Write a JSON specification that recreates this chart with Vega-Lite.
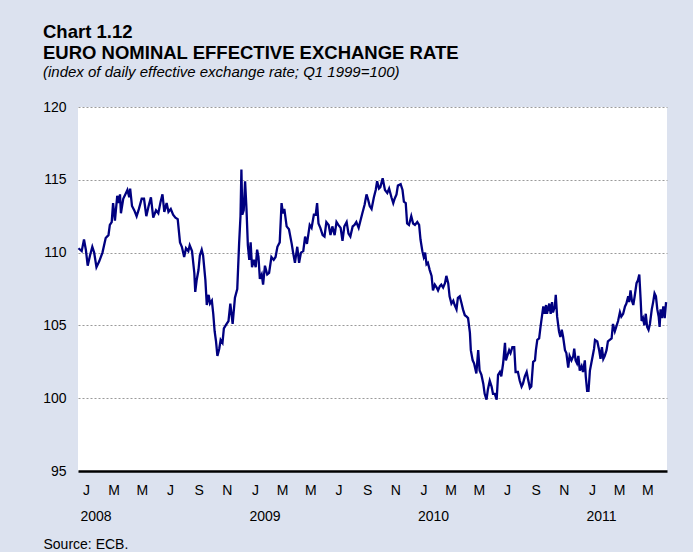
{
  "$schema": "https://vega.github.io/schema/vega-lite/v6.json",
  "width": 589,
  "height": 364,
  "autosize": {"type": "none"},
  "padding": {"left": 78, "top": 107, "right": 26, "bottom": 81},
  "background": "#dce2ef",
  "config": {
    "font": "Liberation Sans",
    "view": {"fill": "white", "stroke": null}
  },
  "title": {
    "text": ["Chart 1.12", "EURO NOMINAL EFFECTIVE EXCHANGE RATE"],
    "subtitle": "(index of daily effective exchange rate; Q1 1999=100)",
    "anchor": "start",
    "frame": "group",
    "dx": -35,
    "fontSize": 18.5,
    "fontWeight": "bold",
    "lineHeight": 21,
    "color": "black",
    "subtitleFontSize": 15,
    "subtitleFontStyle": "italic",
    "subtitleColor": "black",
    "subtitlePadding": 3,
    "offset": 20
  },
  "data": {"values": [
    {"date": "2008-01-02", "index": 110.3},
    {"date": "2008-01-09", "index": 110.1},
    {"date": "2008-01-14", "index": 110.9},
    {"date": "2008-01-18", "index": 110.2},
    {"date": "2008-01-22", "index": 109.1},
    {"date": "2008-01-27", "index": 109.8},
    {"date": "2008-02-01", "index": 110.4},
    {"date": "2008-02-05", "index": 110.0},
    {"date": "2008-02-10", "index": 109.0},
    {"date": "2008-02-16", "index": 109.4},
    {"date": "2008-02-23", "index": 110.0},
    {"date": "2008-03-01", "index": 111.0},
    {"date": "2008-03-07", "index": 111.2},
    {"date": "2008-03-10", "index": 111.9},
    {"date": "2008-03-14", "index": 112.1},
    {"date": "2008-03-17", "index": 113.4},
    {"date": "2008-03-21", "index": 112.2},
    {"date": "2008-03-26", "index": 113.9},
    {"date": "2008-03-29", "index": 113.4},
    {"date": "2008-04-01", "index": 114.0},
    {"date": "2008-04-03", "index": 112.7},
    {"date": "2008-04-08", "index": 113.7},
    {"date": "2008-04-14", "index": 114.1},
    {"date": "2008-04-17", "index": 114.3},
    {"date": "2008-04-21", "index": 113.8},
    {"date": "2008-04-23", "index": 114.4},
    {"date": "2008-04-27", "index": 113.2},
    {"date": "2008-05-02", "index": 112.9},
    {"date": "2008-05-07", "index": 112.5},
    {"date": "2008-05-12", "index": 113.0},
    {"date": "2008-05-18", "index": 113.7},
    {"date": "2008-05-23", "index": 113.7},
    {"date": "2008-05-28", "index": 112.5},
    {"date": "2008-06-02", "index": 113.2},
    {"date": "2008-06-07", "index": 113.8},
    {"date": "2008-06-12", "index": 112.4},
    {"date": "2008-06-18", "index": 112.9},
    {"date": "2008-06-23", "index": 112.7},
    {"date": "2008-06-28", "index": 113.5},
    {"date": "2008-07-02", "index": 114.0},
    {"date": "2008-07-06", "index": 112.8},
    {"date": "2008-07-11", "index": 113.4},
    {"date": "2008-07-15", "index": 112.8},
    {"date": "2008-07-20", "index": 113.0},
    {"date": "2008-07-25", "index": 112.6},
    {"date": "2008-07-30", "index": 112.4},
    {"date": "2008-08-04", "index": 112.3},
    {"date": "2008-08-09", "index": 110.7},
    {"date": "2008-08-13", "index": 110.4},
    {"date": "2008-08-18", "index": 109.7},
    {"date": "2008-08-22", "index": 110.3},
    {"date": "2008-08-27", "index": 110.1},
    {"date": "2008-08-30", "index": 110.5},
    {"date": "2008-09-04", "index": 110.1},
    {"date": "2008-09-09", "index": 108.6},
    {"date": "2008-09-11", "index": 107.3},
    {"date": "2008-09-14", "index": 108.1},
    {"date": "2008-09-18", "index": 108.8},
    {"date": "2008-09-21", "index": 109.8},
    {"date": "2008-09-25", "index": 110.2},
    {"date": "2008-09-28", "index": 109.8},
    {"date": "2008-10-03", "index": 108.1},
    {"date": "2008-10-06", "index": 106.4},
    {"date": "2008-10-10", "index": 107.1},
    {"date": "2008-10-13", "index": 106.5},
    {"date": "2008-10-17", "index": 106.7},
    {"date": "2008-10-20", "index": 105.8},
    {"date": "2008-10-23", "index": 104.6},
    {"date": "2008-10-26", "index": 103.9},
    {"date": "2008-10-29", "index": 102.9},
    {"date": "2008-11-02", "index": 103.4},
    {"date": "2008-11-05", "index": 104.0},
    {"date": "2008-11-09", "index": 103.8},
    {"date": "2008-11-12", "index": 104.8},
    {"date": "2008-11-18", "index": 105.1},
    {"date": "2008-11-22", "index": 105.3},
    {"date": "2008-11-26", "index": 106.5},
    {"date": "2008-12-01", "index": 105.1},
    {"date": "2008-12-06", "index": 106.9},
    {"date": "2008-12-11", "index": 107.5},
    {"date": "2008-12-15", "index": 110.6},
    {"date": "2008-12-18", "index": 112.5},
    {"date": "2008-12-20", "index": 115.7},
    {"date": "2008-12-22", "index": 112.6},
    {"date": "2008-12-25", "index": 112.9},
    {"date": "2008-12-28", "index": 114.9},
    {"date": "2008-12-31", "index": 113.0},
    {"date": "2009-01-03", "index": 110.5},
    {"date": "2009-01-06", "index": 109.5},
    {"date": "2009-01-09", "index": 110.7},
    {"date": "2009-01-12", "index": 109.0},
    {"date": "2009-01-16", "index": 109.5},
    {"date": "2009-01-20", "index": 109.0},
    {"date": "2009-01-23", "index": 110.2},
    {"date": "2009-01-26", "index": 109.7},
    {"date": "2009-01-29", "index": 108.2},
    {"date": "2009-02-02", "index": 108.5},
    {"date": "2009-02-05", "index": 107.8},
    {"date": "2009-02-09", "index": 109.1},
    {"date": "2009-02-14", "index": 108.5},
    {"date": "2009-02-18", "index": 108.6},
    {"date": "2009-02-23", "index": 109.7},
    {"date": "2009-02-28", "index": 109.5},
    {"date": "2009-03-04", "index": 109.7},
    {"date": "2009-03-08", "index": 110.4},
    {"date": "2009-03-13", "index": 110.7},
    {"date": "2009-03-17", "index": 113.4},
    {"date": "2009-03-20", "index": 112.7},
    {"date": "2009-03-23", "index": 113.0},
    {"date": "2009-03-28", "index": 111.8},
    {"date": "2009-04-02", "index": 111.6},
    {"date": "2009-04-08", "index": 110.6},
    {"date": "2009-04-11", "index": 110.0},
    {"date": "2009-04-15", "index": 109.3},
    {"date": "2009-04-20", "index": 110.4},
    {"date": "2009-04-24", "index": 109.3},
    {"date": "2009-04-28", "index": 110.0},
    {"date": "2009-05-03", "index": 110.1},
    {"date": "2009-05-07", "index": 111.1},
    {"date": "2009-05-11", "index": 110.6},
    {"date": "2009-05-17", "index": 111.9},
    {"date": "2009-05-21", "index": 111.7},
    {"date": "2009-05-26", "index": 112.6},
    {"date": "2009-05-30", "index": 112.6},
    {"date": "2009-06-02", "index": 113.4},
    {"date": "2009-06-05", "index": 112.0},
    {"date": "2009-06-09", "index": 111.7},
    {"date": "2009-06-14", "index": 111.2},
    {"date": "2009-06-18", "index": 111.1},
    {"date": "2009-06-22", "index": 112.1},
    {"date": "2009-06-27", "index": 111.9},
    {"date": "2009-07-01", "index": 111.2},
    {"date": "2009-07-05", "index": 111.8},
    {"date": "2009-07-10", "index": 111.2},
    {"date": "2009-07-14", "index": 112.1},
    {"date": "2009-07-18", "index": 111.9},
    {"date": "2009-07-23", "index": 111.7},
    {"date": "2009-07-27", "index": 110.8},
    {"date": "2009-07-31", "index": 111.8},
    {"date": "2009-08-05", "index": 112.1},
    {"date": "2009-08-09", "index": 111.3},
    {"date": "2009-08-13", "index": 111.1},
    {"date": "2009-08-18", "index": 111.8},
    {"date": "2009-08-22", "index": 111.9},
    {"date": "2009-08-26", "index": 112.1},
    {"date": "2009-08-31", "index": 111.7},
    {"date": "2009-09-04", "index": 112.2},
    {"date": "2009-09-08", "index": 112.7},
    {"date": "2009-09-13", "index": 113.3},
    {"date": "2009-09-17", "index": 114.0},
    {"date": "2009-09-20", "index": 113.7},
    {"date": "2009-09-24", "index": 113.2},
    {"date": "2009-09-28", "index": 113.0},
    {"date": "2009-10-03", "index": 113.8},
    {"date": "2009-10-07", "index": 114.3},
    {"date": "2009-10-10", "index": 114.9},
    {"date": "2009-10-14", "index": 114.4},
    {"date": "2009-10-17", "index": 114.5},
    {"date": "2009-10-22", "index": 115.1},
    {"date": "2009-10-27", "index": 114.3},
    {"date": "2009-11-01", "index": 114.1},
    {"date": "2009-11-05", "index": 114.4},
    {"date": "2009-11-10", "index": 113.8},
    {"date": "2009-11-14", "index": 113.4},
    {"date": "2009-11-17", "index": 113.7},
    {"date": "2009-11-21", "index": 114.0},
    {"date": "2009-11-24", "index": 114.6},
    {"date": "2009-11-30", "index": 114.7},
    {"date": "2009-12-04", "index": 114.3},
    {"date": "2009-12-07", "index": 113.5},
    {"date": "2009-12-11", "index": 113.4},
    {"date": "2009-12-14", "index": 112.0},
    {"date": "2009-12-18", "index": 111.9},
    {"date": "2009-12-23", "index": 112.5},
    {"date": "2009-12-27", "index": 112.0},
    {"date": "2009-12-31", "index": 111.9},
    {"date": "2010-01-05", "index": 112.1},
    {"date": "2010-01-09", "index": 111.9},
    {"date": "2010-01-12", "index": 110.9},
    {"date": "2010-01-16", "index": 110.1},
    {"date": "2010-01-19", "index": 109.7},
    {"date": "2010-01-22", "index": 110.0},
    {"date": "2010-01-25", "index": 109.2},
    {"date": "2010-01-28", "index": 109.3},
    {"date": "2010-02-01", "index": 108.8},
    {"date": "2010-02-05", "index": 108.4},
    {"date": "2010-02-08", "index": 107.4},
    {"date": "2010-02-12", "index": 107.8},
    {"date": "2010-02-16", "index": 107.6},
    {"date": "2010-02-19", "index": 107.4},
    {"date": "2010-02-23", "index": 107.7},
    {"date": "2010-02-26", "index": 107.8},
    {"date": "2010-03-02", "index": 107.6},
    {"date": "2010-03-06", "index": 107.9},
    {"date": "2010-03-09", "index": 108.4},
    {"date": "2010-03-13", "index": 107.9},
    {"date": "2010-03-16", "index": 107.0},
    {"date": "2010-03-20", "index": 106.5},
    {"date": "2010-03-24", "index": 106.7},
    {"date": "2010-03-27", "index": 106.4},
    {"date": "2010-03-31", "index": 106.1},
    {"date": "2010-04-03", "index": 106.9},
    {"date": "2010-04-07", "index": 107.0},
    {"date": "2010-04-11", "index": 106.5},
    {"date": "2010-04-14", "index": 106.1},
    {"date": "2010-04-18", "index": 105.7},
    {"date": "2010-04-22", "index": 105.6},
    {"date": "2010-04-25", "index": 105.5},
    {"date": "2010-04-29", "index": 104.5},
    {"date": "2010-05-01", "index": 103.3},
    {"date": "2010-05-05", "index": 102.6},
    {"date": "2010-05-08", "index": 102.4},
    {"date": "2010-05-13", "index": 101.7},
    {"date": "2010-05-17", "index": 103.3},
    {"date": "2010-05-20", "index": 101.9},
    {"date": "2010-05-24", "index": 101.6},
    {"date": "2010-05-28", "index": 101.0},
    {"date": "2010-05-31", "index": 100.3},
    {"date": "2010-06-04", "index": 99.9},
    {"date": "2010-06-07", "index": 100.6},
    {"date": "2010-06-11", "index": 101.2},
    {"date": "2010-06-15", "index": 100.8},
    {"date": "2010-06-18", "index": 100.3},
    {"date": "2010-06-22", "index": 100.3},
    {"date": "2010-06-26", "index": 99.9},
    {"date": "2010-06-29", "index": 101.6},
    {"date": "2010-07-03", "index": 101.8},
    {"date": "2010-07-06", "index": 101.5},
    {"date": "2010-07-10", "index": 102.4},
    {"date": "2010-07-14", "index": 103.8},
    {"date": "2010-07-16", "index": 102.6},
    {"date": "2010-07-19", "index": 102.9},
    {"date": "2010-07-23", "index": 103.3},
    {"date": "2010-07-26", "index": 103.1},
    {"date": "2010-07-30", "index": 103.5},
    {"date": "2010-08-03", "index": 103.5},
    {"date": "2010-08-06", "index": 101.8},
    {"date": "2010-08-11", "index": 101.8},
    {"date": "2010-08-15", "index": 101.2},
    {"date": "2010-08-19", "index": 100.8},
    {"date": "2010-08-22", "index": 101.0},
    {"date": "2010-08-26", "index": 101.5},
    {"date": "2010-08-30", "index": 101.8},
    {"date": "2010-09-02", "index": 101.3},
    {"date": "2010-09-06", "index": 100.7},
    {"date": "2010-09-09", "index": 100.8},
    {"date": "2010-09-13", "index": 102.5},
    {"date": "2010-09-17", "index": 102.6},
    {"date": "2010-09-19", "index": 103.3},
    {"date": "2010-09-22", "index": 104.0},
    {"date": "2010-09-26", "index": 104.1},
    {"date": "2010-09-29", "index": 104.9},
    {"date": "2010-10-02", "index": 105.6},
    {"date": "2010-10-05", "index": 106.3},
    {"date": "2010-10-08", "index": 105.8},
    {"date": "2010-10-11", "index": 106.4},
    {"date": "2010-10-13", "index": 105.8},
    {"date": "2010-10-18", "index": 106.5},
    {"date": "2010-10-21", "index": 105.8},
    {"date": "2010-10-24", "index": 106.6},
    {"date": "2010-10-26", "index": 105.9},
    {"date": "2010-10-30", "index": 106.3},
    {"date": "2010-11-01", "index": 107.1},
    {"date": "2010-11-04", "index": 105.6},
    {"date": "2010-11-08", "index": 104.6},
    {"date": "2010-11-11", "index": 104.2},
    {"date": "2010-11-14", "index": 104.7},
    {"date": "2010-11-17", "index": 104.2},
    {"date": "2010-11-21", "index": 103.3},
    {"date": "2010-11-24", "index": 103.1},
    {"date": "2010-11-28", "index": 102.1},
    {"date": "2010-12-01", "index": 102.9},
    {"date": "2010-12-05", "index": 102.6},
    {"date": "2010-12-09", "index": 102.9},
    {"date": "2010-12-11", "index": 103.4},
    {"date": "2010-12-14", "index": 102.6},
    {"date": "2010-12-17", "index": 102.4},
    {"date": "2010-12-20", "index": 102.9},
    {"date": "2010-12-23", "index": 101.9},
    {"date": "2010-12-27", "index": 102.2},
    {"date": "2010-12-30", "index": 101.8},
    {"date": "2011-01-03", "index": 102.6},
    {"date": "2011-01-05", "index": 101.5},
    {"date": "2011-01-08", "index": 100.5},
    {"date": "2011-01-11", "index": 100.5},
    {"date": "2011-01-14", "index": 101.9},
    {"date": "2011-01-17", "index": 102.4},
    {"date": "2011-01-20", "index": 102.9},
    {"date": "2011-01-23", "index": 103.4},
    {"date": "2011-01-25", "index": 104.0},
    {"date": "2011-01-30", "index": 103.9},
    {"date": "2011-02-03", "index": 103.3},
    {"date": "2011-02-06", "index": 102.7},
    {"date": "2011-02-09", "index": 103.5},
    {"date": "2011-02-12", "index": 102.7},
    {"date": "2011-02-15", "index": 102.9},
    {"date": "2011-02-19", "index": 103.3},
    {"date": "2011-02-22", "index": 103.9},
    {"date": "2011-02-26", "index": 104.0},
    {"date": "2011-03-02", "index": 104.1},
    {"date": "2011-03-05", "index": 105.1},
    {"date": "2011-03-09", "index": 104.6},
    {"date": "2011-03-13", "index": 105.0},
    {"date": "2011-03-16", "index": 105.3},
    {"date": "2011-03-20", "index": 105.9},
    {"date": "2011-03-23", "index": 105.6},
    {"date": "2011-03-27", "index": 105.8},
    {"date": "2011-03-31", "index": 106.3},
    {"date": "2011-04-03", "index": 106.5},
    {"date": "2011-04-07", "index": 107.0},
    {"date": "2011-04-09", "index": 106.6},
    {"date": "2011-04-12", "index": 107.4},
    {"date": "2011-04-15", "index": 106.7},
    {"date": "2011-04-18", "index": 106.4},
    {"date": "2011-04-21", "index": 107.0},
    {"date": "2011-04-25", "index": 107.9},
    {"date": "2011-04-28", "index": 108.1},
    {"date": "2011-05-01", "index": 108.5},
    {"date": "2011-05-04", "index": 106.7},
    {"date": "2011-05-06", "index": 105.3},
    {"date": "2011-05-09", "index": 105.5},
    {"date": "2011-05-12", "index": 105.0},
    {"date": "2011-05-15", "index": 105.8},
    {"date": "2011-05-18", "index": 104.9},
    {"date": "2011-05-21", "index": 104.7},
    {"date": "2011-05-24", "index": 105.1},
    {"date": "2011-05-28", "index": 106.1},
    {"date": "2011-05-31", "index": 106.6},
    {"date": "2011-06-03", "index": 107.2},
    {"date": "2011-06-06", "index": 107.0},
    {"date": "2011-06-09", "index": 106.1},
    {"date": "2011-06-12", "index": 105.6},
    {"date": "2011-06-14", "index": 104.9},
    {"date": "2011-06-16", "index": 106.1},
    {"date": "2011-06-19", "index": 105.5},
    {"date": "2011-06-22", "index": 106.3},
    {"date": "2011-06-25", "index": 105.5},
    {"date": "2011-06-28", "index": 106.6}
  ]},
  "encoding": {
    "y": {
      "field": "index",
      "type": "quantitative",
      "scale": {"domain": [95, 120], "nice": false, "zero": false},
      "axis": {
        "values": [95, 100, 105, 110, 115, 120],
        "title": null,
        "ticks": false,
        "domain": false,
        "labelFontSize": 14,
        "labelColor": "black",
        "labelPadding": 12,
        "grid": true,
        "gridColor": "#9a9a9a",
        "gridDash": [2, 2],
        "gridWidth": 1.2,
        "gridOpacity": {"condition": {"test": "datum.value == 95", "value": 0}, "value": 1}
      }
    }
  },
  "layer": [
    {
      "mark": {"type": "line", "color": "#000080", "strokeWidth": 2.3},
      "encoding": {
        "x": {
          "field": "date",
          "type": "temporal",
          "scale": {"type": "utc", "domain": [{"year": 2008, "month": 1, "date": 1, "utc": true}, {"year": 2011, "month": 6, "date": 30, "utc": true}]},
          "axis": {
            "orient": "bottom",
            "tickCount": {"interval": "month", "step": 2},
            "labelExpr": "substring(utcFormat(datum.value, '%b'), 0, 1)",
            "labelOffset": 8,
            "labelFlush": false,
            "labelOverlap": false,
            "labelBound": false,
            "labelPadding": 12,
            "labelFontSize": 14,
            "labelColor": "black",
            "ticks": false,
            "grid": false,
            "domain": true,
            "domainColor": "black",
            "domainWidth": 2.5,
            "title": null
          }
        }
      }
    },
    {
      "mark": {"type": "line", "strokeOpacity": 0},
      "encoding": {
        "x": {
          "field": "date",
          "type": "temporal",
          "scale": {"type": "utc", "domain": [{"year": 2008, "month": 1, "date": 1, "utc": true}, {"year": 2011, "month": 6, "date": 30, "utc": true}]},
          "axis": {
            "orient": "bottom",
            "tickCount": {"interval": "year", "step": 1},
            "labelExpr": "utcFormat(datum.value, '%Y')",
            "labelAlign": "left",
            "labelOffset": 2,
            "labelFlush": false,
            "labelOverlap": false,
            "labelBound": false,
            "labelPadding": 38,
            "labelFontSize": 14,
            "labelColor": "black",
            "ticks": false,
            "grid": false,
            "domain": false,
            "title": "Source: ECB.",
            "titleAnchor": "start",
            "titleAlign": "left",
            "titleX": -35,
            "titleY": 77,
            "titleBaseline": "alphabetic",
            "titleFontSize": 14,
            "titleFontWeight": "normal",
            "titleColor": "black"
          }
        }
      }
    }
  ],
  "resolve": {"axis": {"x": "independent"}}
}
